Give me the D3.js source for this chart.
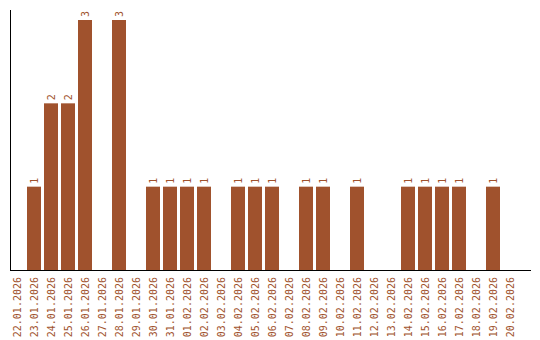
<!DOCTYPE html>
<html>
<head>
<meta charset="utf-8">
<script src="https://cdn.jsdelivr.net/npm/d3@7"></script>
<style>
  body { margin: 0; background: #fff; }
  text { font-family: "DejaVu Sans Mono", monospace; font-size: 10px; fill: #a0522d; }
</style>
</head>
<body>
<script>
  "use strict"

  // Data
  const dates = ['22.01.2026','23.01.2026','24.01.2026','25.01.2026','26.01.2026','27.01.2026',
    '28.01.2026','29.01.2026','30.01.2026','31.01.2026','01.02.2026','02.02.2026','03.02.2026',
    '04.02.2026','05.02.2026','06.02.2026','07.02.2026','08.02.2026','09.02.2026','10.02.2026',
    '11.02.2026','12.02.2026','13.02.2026','14.02.2026','15.02.2026','16.02.2026','17.02.2026',
    '18.02.2026','19.02.2026','20.02.2026']
  const counts = [0,1,2,2,3,0,3,0,1,1,1,1,0,1,1,1,0,1,1,0,1,0,0,1,1,1,1,0,1,0]

  const barColor = '#a0522d'
  const width = 540, height = 340

  const svg = d3.select('body').append('svg')
    .attr('width', width)
    .attr('height', height)

  const x = d3.scaleBand()
    .domain(dates)
    .range([8.5, 518.5])
    .paddingInner(3 / 17)
    .paddingOuter(3 / 34)

  const y = d3.scaleLinear()
    .domain([0, 3])
    .range([270, 20])

  const rows = dates.map((d, i) => ({ date: d, value: counts[i] }))
  const nonzero = rows.filter(r => r.value > 0)

  // Bars
  svg.selectAll('rect.bar')
    .data(nonzero)
    .enter().append('rect')
      .attr('class', 'bar')
      .attr('x', d => x(d.date))
      .attr('width', x.bandwidth())
      .attr('y', d => y(d.value))
      .attr('height', d => y(0) - y(d.value))
      .attr('fill', barColor)

  // Value labels
  svg.selectAll('text.value')
    .data(nonzero)
    .enter().append('text')
      .attr('class', 'value')
      .attr('transform', d => `translate(${x(d.date) + x.bandwidth() / 2},${y(d.value) - 3}) rotate(-90)`)
      .attr('dy', '0.35em')
      .attr('text-anchor', 'start')
      .text(d => d.value)

  // Axes (plain lines, no ticks)
  svg.append('line')
    .attr('x1', 10.5).attr('x2', 10.5)
    .attr('y1', 10).attr('y2', 270.5)
    .attr('stroke', '#000')
  svg.append('line')
    .attr('x1', 10).attr('x2', 531)
    .attr('y1', 270.5).attr('y2', 270.5)
    .attr('stroke', '#000')

  // Date labels
  svg.selectAll('text.tick')
    .data(dates)
    .enter().append('text')
      .attr('class', 'tick')
      .attr('transform', d => `translate(${x(d) + x.bandwidth() / 2},277) rotate(-90)`)
      .attr('dy', '0.35em')
      .attr('text-anchor', 'end')
      .text(d => d)
</script>
</body>
</html>
